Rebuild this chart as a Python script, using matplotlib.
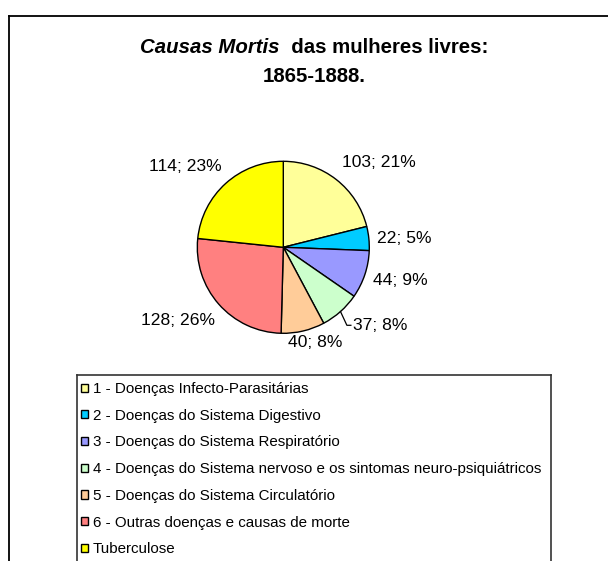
import numpy as np
import matplotlib
matplotlib.use("Agg")
import matplotlib.pyplot as plt
from matplotlib.lines import Line2D

plt.rcParams['font.family'] = ['Liberation Sans', 'DejaVu Sans']

# ---- data ----
categories = [
    "1 - Doenças Infecto-Parasitárias",
    "2 - Doenças do Sistema Digestivo",
    "3 - Doenças do Sistema Respiratório",
    "4 - Doenças do Sistema nervoso e os sintomas neuro-psiquiátricos",
    "5 - Doenças do Sistema Circulatório",
    "6 - Outras doenças e causas de morte",
    "Tuberculose",
]
values = [103, 22, 44, 37, 40, 128, 114]
percents = [21, 5, 9, 8, 8, 26, 23]
colors = ["#FFFF99", "#00CCFF", "#9999FF", "#CCFFCC", "#FFCC99", "#FF8080", "#FFFF00"]

# label placement style: (distance factor, angle nudge deg, ha)
label_style = [
    (1.20, 3.0, "left"),
    (1.09, -0.8, "left"),
    (1.11, -2.0, "left"),
    (1.22, 0.3, "left"),
    (1.17, 5.0, "center"),
    (1.16, 5.5, "right"),
    (1.18, -4.8, "right"),
]

W, H = 608, 561
fig = plt.figure(figsize=(W / 100, H / 100), dpi=100)

# pie axes
cx, cy, R = 283.3, 247.3, 86.0
ax = fig.add_axes([(cx - R) / W, 1 - (cy + R) / H, 2 * R / W, 2 * R / H])
wedges, _ = ax.pie(values, colors=colors, startangle=90, counterclock=False,
                   radius=1.0, wedgeprops=dict(edgecolor="black", linewidth=1.0))
ax.set_xlim(-1, 1)
ax.set_ylim(-1, 1)
ax.set_axis_off()

for i, w in enumerate(wedges):
    mid = (w.theta1 + w.theta2) / 2.0
    d, dang, ha = label_style[i]
    a = np.deg2rad(mid + dang)
    x, y = d * np.cos(a), d * np.sin(a)
    ax.text(x, y, f"{values[i]}; {percents[i]}%", ha=ha, va="center",
            fontsize=12.6, clip_on=False)
    if i == 3:
        am = np.deg2rad(mid)
        x0, y0 = np.cos(am), np.sin(am)
        ax.add_line(Line2D([x0, x - 6.6 / R, x - 2.6 / R], [y0, y, y],
                           color="black", linewidth=0.9, clip_on=False))

# outer frame (top and left visible)
fig.add_artist(Line2D([8.5 / W, 1.0], [1 - 15.5 / H, 1 - 15.5 / H],
                      color="black", linewidth=1.3, transform=fig.transFigure))
fig.add_artist(Line2D([8.5 / W, 8.5 / W], [0, 1 - 15.5 / H],
                      color="black", linewidth=1.3, transform=fig.transFigure))

# legend frame
lx0, lx1, ly0 = 77.5, 551.0, 374.5
fig.add_artist(Line2D([lx0 / W, lx1 / W], [1 - ly0 / H, 1 - ly0 / H],
                      color="#333333", linewidth=1.2, transform=fig.transFigure))
fig.add_artist(Line2D([lx0 / W, lx0 / W], [0, 1 - ly0 / H],
                      color="#333333", linewidth=1.2, transform=fig.transFigure))
fig.add_artist(Line2D([lx1 / W, lx1 / W], [0, 1 - ly0 / H],
                      color="#333333", linewidth=1.2, transform=fig.transFigure))

leg = fig.legend(wedges, categories, loc="upper left",
                 bbox_to_anchor=(81 / W, 1 - 382 / H), frameon=False,
                 fontsize=10.9, handlelength=0.45, handleheight=0.45,
                 handletextpad=0.35, labelspacing=0.84, borderpad=0,
                 borderaxespad=0)
for h in leg.legend_handles:
    h.set_linewidth(1.0)

# title with mixed style
fig.canvas.draw()
r = fig.canvas.get_renderer()
t1 = fig.text(0, 0, "Causas Mortis", fontsize=14.7, fontweight="bold",
              fontstyle="italic")
t2 = fig.text(0, 0, "  das mulheres livres:", fontsize=14.7, fontweight="bold")
w1 = t1.get_window_extent(r).width
w2 = t2.get_window_extent(r).width
tot = w1 + w2
tcx = 314.0
base1 = 53.0
t1.set_position(((tcx - tot / 2) / W, 1 - base1 / H))
t1.set_va("baseline")
t2.set_position(((tcx - tot / 2 + w1) / W, 1 - base1 / H))
t2.set_va("baseline")
fig.text(tcx / W, 1 - 81.7 / H, "1865-1888.", fontsize=14.7, fontweight="bold",
         ha="center", va="baseline")

fig.savefig("out.png", dpi=100)
